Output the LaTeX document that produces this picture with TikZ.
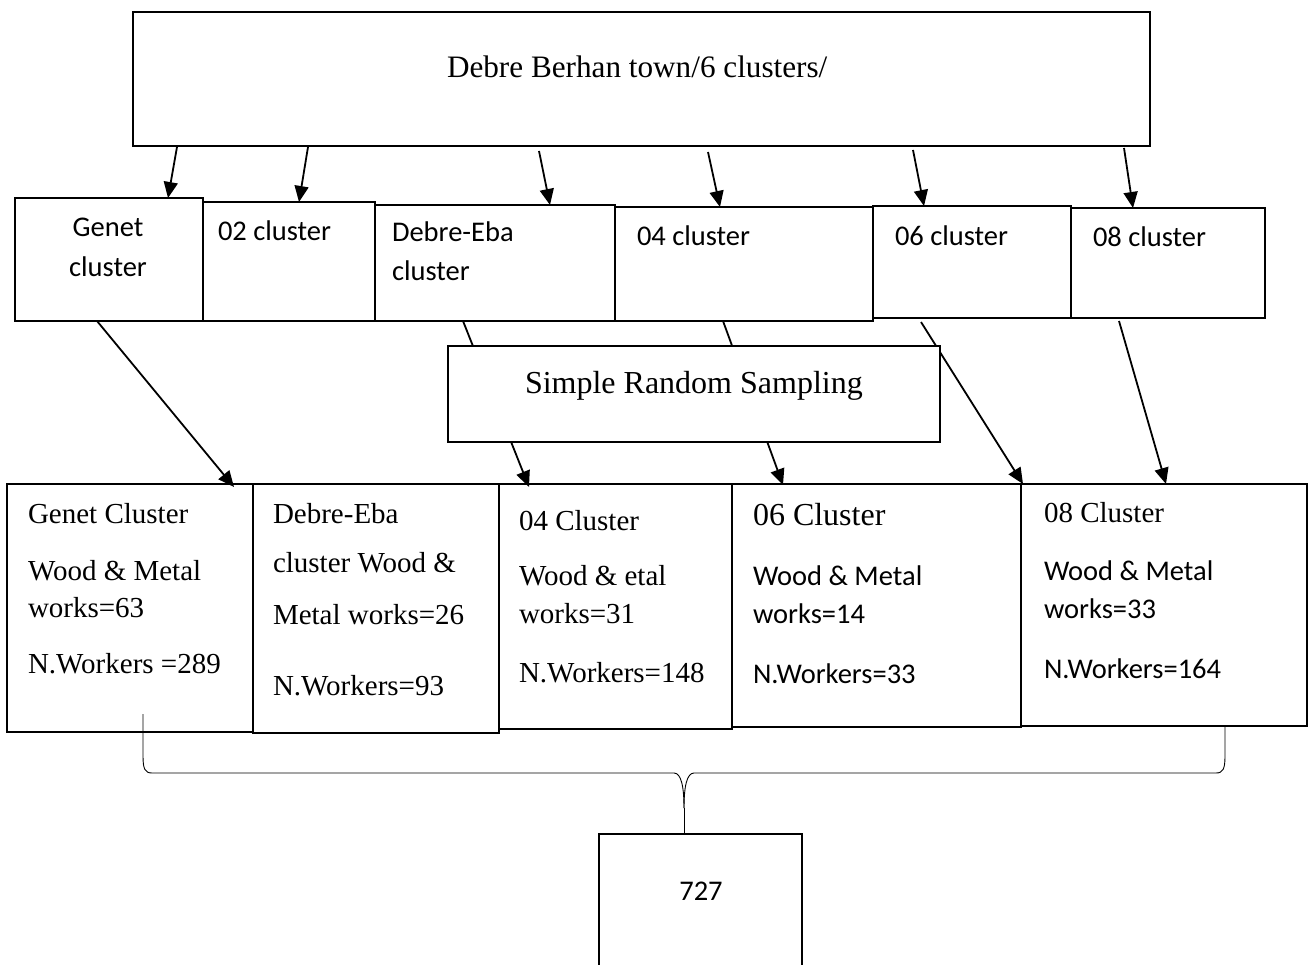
\documentclass[tikz,border=0pt]{standalone}
\usepackage{fontspec}
\setmainfont{Liberation Serif}
\newfontfamily\calibfont{Carlito}
\usetikzlibrary{arrows.meta}
\begin{document}
\begin{tikzpicture}[x=1pt,y=-1pt,
  boxstyle/.style={draw, line width=1.8pt, inner sep=0pt, outer sep=0pt, anchor=north west},
  txt/.style={anchor=base west, inner sep=0pt, outer sep=0pt},
  serifA/.style={font=\fontsize{29}{35}\selectfont},
  serifB/.style={font=\fontsize{32}{38}\selectfont},
  serifT/.style={font=\fontsize{31.2}{37}\selectfont},
  sansA/.style={font=\calibfont\fontsize{28.5}{34}\selectfont},
  arr/.style={line width=1.8pt, -{Triangle[length=16pt,width=14pt]}},
  bracestyle/.style={line width=0.9pt}
]
\useasboundingbox (0,0) rectangle (1314,965);
\clip (0,0) rectangle (1314,965);

% top box
\node[boxstyle, minimum width=1017pt, minimum height=134pt] (top) at (133,12) {};
\node[txt, serifT] (toptext) at (447,78) {Debre Berhan town/6 clusters/};

% row of clusters
\node[boxstyle, minimum width=188pt, minimum height=123pt] (r1) at (15,198) {};
\node[txt, sansA, anchor=base] (r1a) at (108,237) {Genet};
\node[txt, sansA, anchor=base] (r1b) at (108,277) {cluster};
\node[boxstyle, minimum width=172pt, minimum height=119pt] (r2) at (203,202) {};
\node[txt, sansA] (r2a) at (218,241) {02 cluster};
\node[boxstyle, minimum width=240pt, minimum height=116pt] (r3) at (375,205) {};
\node[txt, sansA] (r3a) at (392,242) {Debre-Eba};
\node[txt, sansA] (r3b) at (392,281) {cluster};
\node[boxstyle, minimum width=258pt, minimum height=114pt] (r4) at (615,207) {};
\node[txt, sansA] (r4a) at (637,246) {04 cluster};
\node[boxstyle, minimum width=198pt, minimum height=112pt] (r5) at (873,206) {};
\node[txt, sansA] (r5a) at (895,246) {06 cluster};
\node[boxstyle, minimum width=194pt, minimum height=110pt] (r6) at (1071,208) {};
\node[txt, sansA] (r6a) at (1093,247) {08 cluster};

% bottom boxes
\node[boxstyle, minimum width=246pt, minimum height=248pt] (b1) at (7,484) {};
\node[txt, serifA] (b1a) at (28,523) {Genet Cluster};
\node[txt, serifA] (b1b) at (28,580) {Wood \& Metal};
\node[txt, serifA] (b1c) at (28,617) {works=63};
\node[txt, serifA] (b1d) at (28,673) {N.Workers =289};

\node[boxstyle, minimum width=246pt, minimum height=249pt] (b2) at (253,484) {};
\node[txt, serifA] (b2a) at (273,523) {Debre-Eba};
\node[txt, serifA] (b2b) at (273,572) {cluster Wood \&};
\node[txt, serifA] (b2c) at (273,624) {Metal works=26};
\node[txt, serifA] (b2d) at (273,695) {N.Workers=93};

\node[boxstyle, minimum width=233pt, minimum height=245pt] (b3) at (499,484) {};
\node[txt, serifA] (b3a) at (519,530) {04 Cluster};
\node[txt, serifA] (b3b) at (519,585) {Wood \& etal};
\node[txt, serifA] (b3c) at (519,623) {works=31};
\node[txt, serifA] (b3d) at (519,682) {N.Workers=148};

\node[boxstyle, minimum width=289pt, minimum height=243pt] (b4) at (732,484) {};
\node[txt, serifB] (b4a) at (753,525) {06 Cluster};
\node[txt, sansA] (b4b) at (753,585) {Wood \& Metal};
\node[txt, sansA] (b4c) at (753,623) {works=14};
\node[txt, sansA] (b4d) at (753,683) {N.Workers=33};

\node[boxstyle, minimum width=286pt, minimum height=242pt] (b5) at (1021,484) {};
\node[txt, serifA] (b5a) at (1044,522) {08 Cluster};
\node[txt, sansA] (b5b) at (1044,580) {Wood \& Metal};
\node[txt, sansA] (b5c) at (1044,618) {works=33};
\node[txt, sansA] (b5d) at (1044,678) {N.Workers=164};

% total box
\node[boxstyle, minimum width=203pt, minimum height=160pt] (total) at (599,834) {};
\node[txt, sansA, anchor=base] (totaltext) at (701,900) {727};

% row -> bottom connectors
\draw[arr] ([xshift=82pt]r1.south west) -- ([xshift=227pt,yshift=-3pt]b1.north west);
\draw[arr] ([xshift=88pt]r3.south west) -- ([xshift=30pt,yshift=-3pt]b3.north west);
\draw[arr] ([xshift=108pt]r4.south west) -- ([xshift=51pt,yshift=-1pt]b4.north west);
\draw[arr] ([xshift=48pt,yshift=-4pt]r5.south west) -- ([xshift=2pt]b5.north west);
\draw[arr] ([xshift=48pt,yshift=-3pt]r6.south west) -- ([xshift=145pt]b5.north west);

% simple random sampling box (covers the lines behind it)
\node[boxstyle, fill=white, minimum width=492pt, minimum height=96pt] (srs) at (448,346) {};
\node[txt, serifB] (srstext) at (525,393) {Simple Random Sampling};

% top -> row arrows
\draw[arr] ([xshift=44pt,yshift=-1pt]top.south west) -- ([xshift=153pt]r1.north west);
\draw[arr] ([xshift=175pt,yshift=-1pt]top.south west) -- ([xshift=96pt]r2.north west);
\draw[arr] ([xshift=406pt,yshift=-5pt]top.south west) -- ([xshift=175pt]r3.north west);
\draw[arr] ([xshift=575pt,yshift=-6pt]top.south west) -- ([xshift=105pt]r4.north west);
\draw[arr] ([xshift=780pt,yshift=-4pt]top.south west) -- ([xshift=51pt]r5.north west);
\draw[arr] ([xshift=991pt,yshift=-2pt]top.south west) -- ([xshift=62pt]r6.north west);

% brace
\coordinate (bl) at (143,714);
\coordinate (br) at (1225,727);
\coordinate (cusp) at (684,808);
\draw[bracestyle] (bl) -- (143,756) .. controls (143,769) and (145,773) .. (152,773)
  -- (674,773) .. controls (681,773) and (684,786) .. (cusp);
\draw[bracestyle] (br) -- (1225,756) .. controls (1225,769) and (1223,773) .. (1216,773)
  -- (694,773) .. controls (687,773) and (684,786) .. (cusp);
\draw[bracestyle] (cusp) -- ([xshift=85pt]total.north west);
\end{tikzpicture}
\end{document}
